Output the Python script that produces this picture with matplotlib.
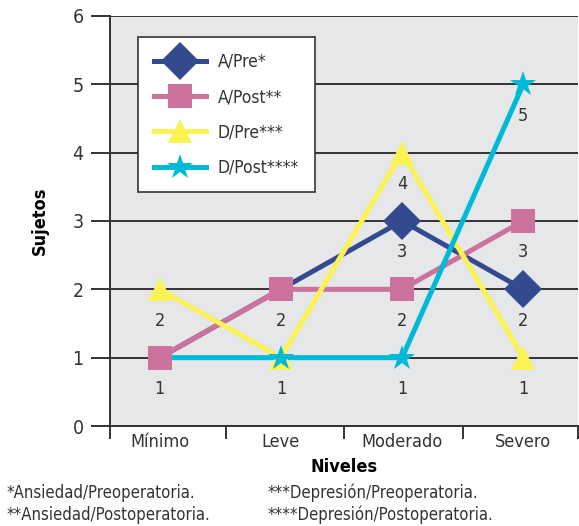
import matplotlib
matplotlib.use('Agg')
import matplotlib.pyplot as plt
from matplotlib.ticker import FixedLocator

plt.rcParams['font.family'] = ['DejaVu Sans']
plt.rcParams['font.stretch'] = 'condensed'

niveles = ['Mínimo', 'Leve', 'Moderado', 'Severo']
a_pre = [1, 2, 3, 2]
a_post = [1, 2, 2, 3]
d_pre = [2, 1, 4, 1]
d_post = [1, 1, 1, 5]
series_names = ['A/Pre*', 'A/Post**', 'D/Pre***', 'D/Post****']
notas_izq = ['*Ansiedad/Preoperatoria.', '**Ansiedad/Postoperatoria.']
notas_der = ['***Depresión/Preoperatoria.', '****Depresión/Postoperatoria.']

colors = ['#344a8f', '#cc729c', '#fbf253', '#00b9d6']
markers = ['D', 's', '^', '*']
msizes = [19, 17, 17, 19]
line_z = [3, 4, 5, 6]
mark_z = [7, 10, 8, 9]
# markers hidden under the square in the original
shown = [[2, 3], [0, 1, 2, 3], [0, 1, 2, 3], [1, 2, 3]]

fig = plt.figure(figsize=(5.79, 5.26), dpi=100)
ax = fig.add_axes([0.19, 0.19, 0.808, 0.78])
ax.set_facecolor('#e6e7e9')

x = list(range(len(niveles)))
for i, vals in enumerate([a_pre, a_post, d_pre, d_post]):
    ax.plot(x, vals, color=colors[i], linewidth=3.6, zorder=line_z[i])
    ax.plot([x[k] for k in shown[i]], [vals[k] for k in shown[i]],
            linestyle='none', color=colors[i], marker=markers[i],
            markersize=msizes[i], markeredgewidth=0, zorder=mark_z[i])
    ax.plot([], [], color=colors[i], marker=markers[i], markersize=msizes[i],
            linewidth=3.6, markeredgewidth=0, label=series_names[i])

# value labels under points (one per distinct value in each category)
for c in x:
    vals = set(s[c] for s in [a_pre, a_post, d_pre, d_post])
    for v in vals:
        ax.text(c, v - 0.33, str(v), ha='center', va='top', fontsize=13,
                color='#333333', zorder=12)

ax.set_xlim(-0.41, 3.45)
ax.set_ylim(0, 6)
ax.set_yticks(range(0, 7))
ax.yaxis.grid(True, color='#333333', linewidth=1.4)
ax.set_axisbelow(True)
ax.tick_params(axis='y', length=14, width=1.4, color='#333333', labelsize=14,
               pad=5, labelcolor='#333333')
ax.set_xticks(x)
ax.set_xticklabels(niveles)
ax.tick_params(axis='x', which='major', length=0, labelsize=13, pad=5,
               labelcolor='#333333')
ax.xaxis.set_minor_locator(FixedLocator([-0.41, 0.55, 1.52, 2.5, 3.45]))
ax.tick_params(axis='x', which='minor', length=9, width=1.4, color='#333333')

for s in ['top', 'right']:
    ax.spines[s].set_visible(False)
for s in ['left', 'bottom']:
    ax.spines[s].set_color('#333333')
    ax.spines[s].set_linewidth(1.4)

ax.set_ylabel('Sujetos', fontsize=13, fontweight='bold', labelpad=17)
ax.set_xlabel('Niveles', fontsize=13, fontweight='bold', labelpad=5)

leg = ax.legend(loc='upper left', bbox_to_anchor=(0.06, 0.948), fontsize=12.5,
                handlelength=3.0, borderpad=0.9, labelspacing=1.0,
                handletextpad=0.7, fancybox=False, framealpha=1,
                edgecolor='#333333', borderaxespad=0)
leg.get_frame().set_linewidth(1.2)
leg.set_zorder(20)
for t in leg.get_texts():
    t.set_color('#333333')

for j, t in enumerate(notas_izq):
    fig.text(0.012, 1 - (493 + 22 * j) / 526, t, fontsize=12, va='center',
             color='#333333')
for j, t in enumerate(notas_der):
    fig.text(0.462, 1 - (493 + 22 * j) / 526, t, fontsize=12, va='center',
             color='#333333')

fig.savefig('out.png', dpi=100)
